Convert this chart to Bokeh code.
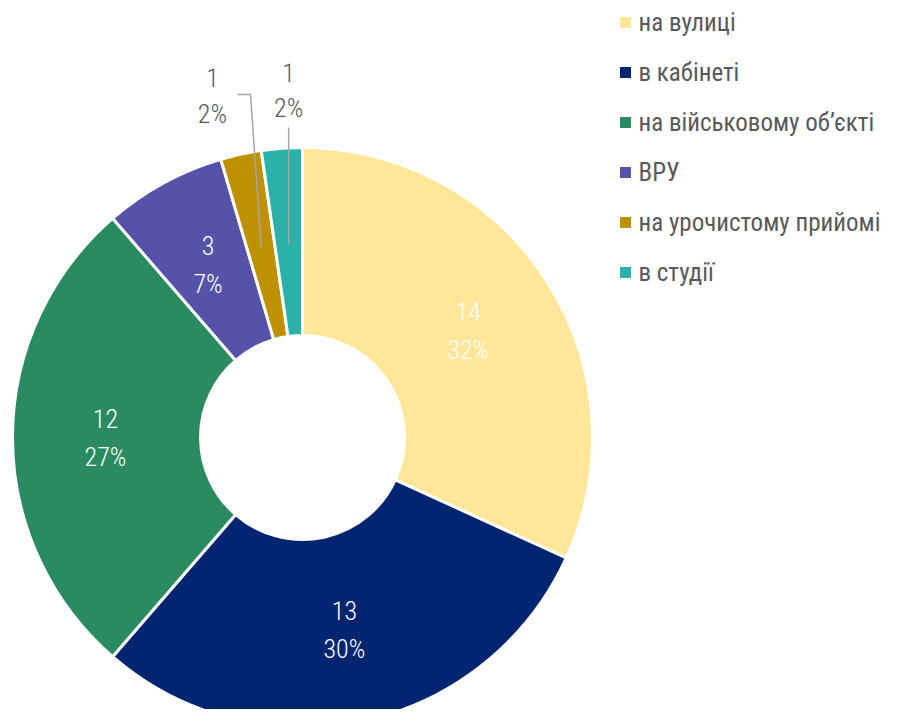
import math
from bokeh.plotting import figure
from bokeh.models import Range1d, ColumnDataSource
from bokeh.core.properties import value
from bokeh.embed import file_html
from bokeh.resources import INLINE

categories = ["на вулиці", "в кабінеті", "на військовому об’єкті", "ВРУ", "на урочистому прийомі", "в студії"]
counts = [14, 13, 12, 3, 1, 1]
colors = ["#FFE699", "#002570", "#2A8B61", "#5553A9", "#BF9000", "#2AB1AA"]

W, H = 882, 709
p = figure(width=W, height=H, output_backend="svg", toolbar_location=None,
           x_range=Range1d(0, W), y_range=Range1d(-H, 0), min_border=0)
p.axis.visible = False
p.grid.visible = False
p.outline_line_color = None
p.background_fill_color = "white"

FONT = "Roboto Condensed Light, Roboto Condensed"
LFONT = "Roboto Condensed"
cx, cy = 302, -437
r_in, r_out = 102, 290
total = sum(counts)
starts, ends, mids = [], [], []
cum = 0
for c in counts:
    a0 = math.pi / 2 - 2 * math.pi * cum / total
    a1 = math.pi / 2 - 2 * math.pi * (cum + c) / total
    starts.append(a0)
    ends.append(a1)
    mids.append((a0 + a1) / 2)
    cum += c

src = ColumnDataSource(dict(start=starts, end=ends, color=colors))
p.annular_wedge(x=cx, y=cy, inner_radius=r_in, outer_radius=r_out, start_angle="start",
                end_angle="end", direction="clock", fill_color="color", line_color="white",
                line_width=3, source=src)

pcts = [f"{round(100 * c / total)}%" for c in counts]
FS = "26px"
# inside labels
lr = 197
for i in range(4):
    x = cx + lr * math.cos(mids[i])
    y = cy + lr * math.sin(mids[i])
    p.text(x=[x], y=[y], text=[str(counts[i])], text_font=value(FONT), text_font_size=FS,
           text_color="white", text_align="center", text_baseline="middle", y_offset=-19)
    p.text(x=[x], y=[y], text=[pcts[i]], text_font=value(FONT), text_font_size=FS,
           text_color="white", text_align="center", text_baseline="middle", y_offset=19)

# outside labels with leaders
lead_r = 194
# gold slice
i = 4
sx = cx + lead_r * math.cos(mids[i]); sy = cy + lead_r * math.sin(mids[i])
p.line(x=[sx, 250, 237], y=[sy, -94, -94], line_color="#A6A6A6", line_width=1.5)
p.text(x=[212], y=[-77], text=[str(counts[i])], text_font=value(FONT), text_font_size=FS,
       text_color="#595959", text_align="center", text_baseline="middle")
p.text(x=[212], y=[-113], text=[pcts[i]], text_font=value(FONT), text_font_size=FS,
       text_color="#595959", text_align="center", text_baseline="middle")
# teal slice
i = 5
sx = cx + lead_r * math.cos(mids[i]); sy = cy + lead_r * math.sin(mids[i])
p.line(x=[sx, sx], y=[sy, -127], line_color="#A6A6A6", line_width=1.5)
p.text(x=[sx], y=[-72], text=[str(counts[i])], text_font=value(FONT), text_font_size=FS,
       text_color="#595959", text_align="center", text_baseline="middle")
p.text(x=[sx], y=[-107], text=[pcts[i]], text_font=value(FONT), text_font_size=FS,
       text_color="#595959", text_align="center", text_baseline="middle")

# legend
ly = [-(22 + 50 * k) for k in range(len(categories))]
lsrc = ColumnDataSource(dict(x=[625] * 6, y=ly, color=colors, label=categories))
p.scatter(x="x", y="y", marker="square", size=11, fill_color="color", line_color=None, source=lsrc)
p.text(x=638, y="y", text="label", text_font=value(LFONT), text_font_size="25px",
       text_color="#595959", text_baseline="middle", source=lsrc)

open("out.html", "w").write(file_html(p, INLINE))
